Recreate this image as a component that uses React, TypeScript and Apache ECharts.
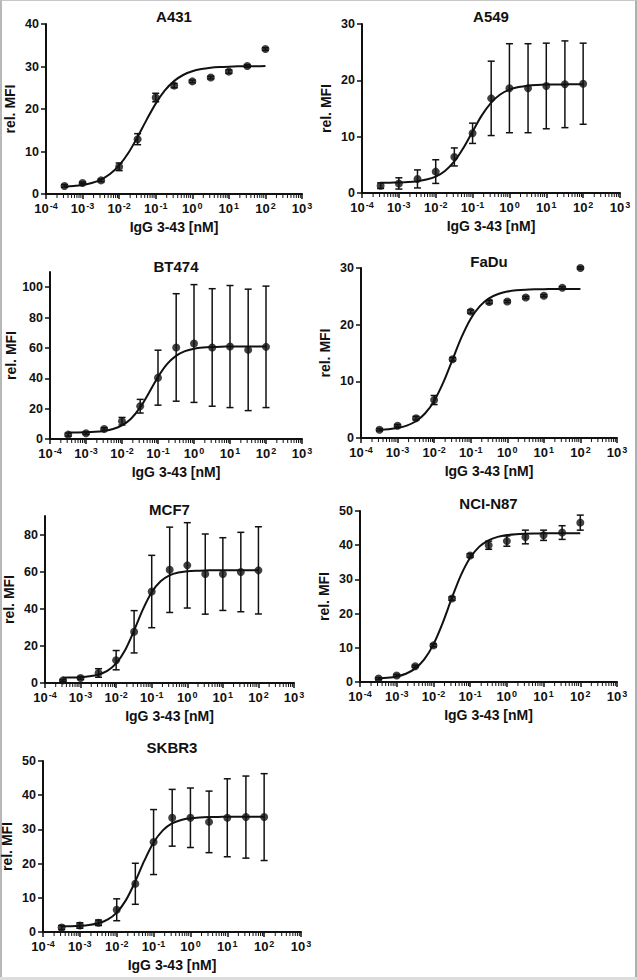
import React, { useEffect, useRef } from 'react';
import * as echarts from 'echarts';

// ---------- data ----------
const panelNames = ['A431', 'A549', 'BT474', 'FaDu', 'MCF7', 'NCI-N87', 'SKBR3'];
const xAxisTitle = 'IgG 3-43 [nM]';
const yAxisTitle = 'rel. MFI';

// antibody concentrations (nM)
const conc = [0.00032, 0.001, 0.0032, 0.01, 0.032, 0.1, 0.32, 1, 3.2, 10, 32, 100];
// concentrations at which the fitted curves were read
const curveConc = [
  0.000316, 0.000562, 0.001, 0.00178, 0.00316, 0.00562, 0.01, 0.0178, 0.0316, 0.0562,
  0.1, 0.178, 0.316, 0.562, 1, 1.78, 3.16, 5.62, 10, 17.8, 31.6, 56.2, 100,
];
const xMajorTicks = [0.0001, 0.001, 0.01, 0.1, 1, 10, 100, 1000];
const xMinorTicks = [
  0.0002, 0.0003, 0.0004, 0.0005, 0.0006, 0.0007, 0.0008, 0.0009,
  0.002, 0.003, 0.004, 0.005, 0.006, 0.007, 0.008, 0.009,
  0.02, 0.03, 0.04, 0.05, 0.06, 0.07, 0.08, 0.09,
  0.2, 0.3, 0.4, 0.5, 0.6, 0.7, 0.8, 0.9,
  2, 3, 4, 5, 6, 7, 8, 9,
  20, 30, 40, 50, 60, 70, 80, 90,
  200, 300, 400, 500, 600, 700, 800, 900,
];

const a431Mean = [1.9, 2.6, 3.2, 6.4, 12.9, 22.7, 25.5, 26.5, 27.4, 28.8, 30.1, 34.1];
const a431Err = [0.3, 0.2, 0.3, 0.9, 1.3, 1.0, 0.5, 0.3, 0.3, 0.4, 0.3, 0.3];
const a431Fit = [1.70, 1.86, 2.13, 2.60, 3.39, 4.70, 6.73, 9.64, 13.35, 17.44, 21.27, 24.36, 26.56, 28.00, 28.88, 29.40, 29.70, 29.87, 29.97, 30.03, 30.06, 30.08, 30.09];
const a431YTicks = [0, 10, 20, 30, 40];

const a549Mean = [1.3, 1.7, 2.5, 3.8, 6.4, 10.6, 16.8, 18.6, 18.6, 19.0, 19.3, 19.4];
const a549Err = [0.5, 1.0, 1.6, 2.1, 1.6, 1.8, 6.6, 7.9, 7.9, 7.6, 7.7, 7.2];
const a549Fit = [1.82, 1.84, 1.88, 1.95, 2.10, 2.38, 2.92, 3.91, 5.55, 7.97, 10.91, 13.78, 16.01, 17.48, 18.34, 18.80, 19.05, 19.17, 19.24, 19.27, 19.28, 19.29, 19.30];
const a549YTicks = [0, 10, 20, 30];

const bt474Mean = [2.9, 3.8, 6.6, 11.7, 21.6, 40.4, 60.3, 62.9, 60.3, 60.9, 58.7, 60.7];
const bt474Err = [1.0, 0.8, 0.8, 2.5, 4.5, 18.1, 35.4, 38.8, 38.7, 40.2, 40.0, 40.0];
const bt474Fit = [4.26, 4.32, 4.46, 4.74, 5.34, 6.55, 8.95, 13.38, 20.64, 30.48, 40.86, 49.28, 54.78, 57.88, 59.48, 60.27, 60.65, 60.83, 60.92, 60.96, 60.98, 60.99, 61.00];
const bt474YTicks = [0, 20, 40, 60, 80, 100];

const faduMean = [1.46, 2.17, 3.5, 6.7, 13.9, 22.3, 24.0, 24.1, 24.8, 25.1, 26.5, 30.0];
const faduErr = [0.2, 0.2, 0.3, 0.8, 0.3, 0.3, 0.3, 0.2, 0.2, 0.2, 0.2, 0.2];
const faduFit = [1.42, 1.54, 1.76, 2.18, 2.95, 4.32, 6.55, 9.81, 13.80, 17.79, 21.05, 23.28, 24.65, 25.42, 25.84, 26.06, 26.18, 26.24, 26.27, 26.28, 26.29, 26.30, 26.30];
const faduYTicks = [0, 10, 20, 30];

const mcf7Mean = [1.4, 2.7, 5.4, 12.3, 27.6, 49.3, 61.0, 63.4, 58.7, 58.7, 59.8, 60.7];
const mcf7Err = [0.5, 0.8, 2.3, 5.2, 11.4, 19.5, 23.0, 23.0, 21.6, 19.6, 21.4, 23.5];
const mcf7Fit = [2.87, 2.96, 3.15, 3.59, 4.53, 6.54, 10.55, 17.68, 28.08, 39.55, 48.90, 54.80, 57.96, 59.50, 60.21, 60.53, 60.68, 60.75, 60.78, 60.79, 60.80, 60.80, 60.80];
const mcf7YTicks = [0, 20, 40, 60, 80];

const nciMean = [1.0, 1.9, 4.6, 10.7, 24.4, 37.0, 40.0, 41.2, 42.4, 42.9, 43.7, 46.6];
const nciErr = [0.3, 0.3, 0.3, 0.4, 0.5, 0.5, 1.2, 1.5, 2.0, 1.5, 2.0, 2.2];
const nciFit = [1.01, 1.22, 1.63, 2.42, 3.91, 6.59, 10.99, 17.22, 24.50, 31.26, 36.34, 39.58, 41.44, 42.44, 42.96, 43.23, 43.36, 43.43, 43.47, 43.48, 43.49, 43.50, 43.50];
const nciYTicks = [0, 10, 20, 30, 40, 50];

const skbr3Mean = [1.3, 1.9, 2.7, 6.5, 14.1, 26.3, 33.4, 33.4, 32.2, 33.4, 33.6, 33.6];
const skbr3Err = [0.6, 0.8, 0.8, 3.2, 6.0, 9.5, 8.3, 8.7, 9.0, 11.4, 12.0, 12.7];
const skbr3Fit = [1.64, 1.70, 1.81, 2.05, 2.56, 3.61, 5.68, 9.32, 14.69, 20.85, 26.16, 29.73, 31.75, 32.77, 33.27, 33.50, 33.61, 33.66, 33.68, 33.69, 33.70, 33.70, 33.70];
const skbr3YTicks = [0, 10, 20, 30, 40, 50];

const yMaxes = [40, 30, 110, 30, 90, 50, 50];

const panelData = [
  { mean: a431Mean, err: a431Err, fit: a431Fit, ticks: a431YTicks },
  { mean: a549Mean, err: a549Err, fit: a549Fit, ticks: a549YTicks },
  { mean: bt474Mean, err: bt474Err, fit: bt474Fit, ticks: bt474YTicks },
  { mean: faduMean, err: faduErr, fit: faduFit, ticks: faduYTicks },
  { mean: mcf7Mean, err: mcf7Err, fit: mcf7Fit, ticks: mcf7YTicks },
  { mean: nciMean, err: nciErr, fit: nciFit, ticks: nciYTicks },
  { mean: skbr3Mean, err: skbr3Err, fit: skbr3Fit, ticks: skbr3YTicks },
];

// ---------- layout (pixels) ----------
const layouts = [
  { left: 46, top: 24, width: 256, height: 170, titleY: 16 },
  { left: 362, top: 24, width: 258, height: 169, titleY: 16 },
  { left: 50, top: 272, width: 252, height: 167, titleY: 266 },
  { left: 361, top: 268, width: 256, height: 170, titleY: 261 },
  { left: 45, top: 516, width: 249, height: 167, titleY: 509 },
  { left: 360, top: 511, width: 257, height: 171, titleY: 503 },
  { left: 43, top: 761, width: 258, height: 171, titleY: 747 },
];

const FONT = '"Liberation Sans", Arial, Helvetica, sans-serif';
const INK = '#111111';

function buildOption() {
  const grid: any[] = [];
  const xAxis: any[] = [];
  const yAxis: any[] = [];
  const series: any[] = [];
  const graphic: any[] = [];

  panelNames.forEach((name, i) => {
    const L = layouts[i];
    const d = panelData[i];
    grid.push({ left: L.left, top: L.top, width: L.width, height: L.height, containLabel: false, outerBoundsMode: 'none' });
    xAxis.push({
      type: 'log',
      logBase: 10,
      gridIndex: i,
      min: xMajorTicks[0],
      max: xMajorTicks[xMajorTicks.length - 1],
      splitNumber: 7,
      name: xAxisTitle,
      nameLocation: 'middle',
      nameGap: 26,
      nameTextStyle: { fontFamily: FONT, fontWeight: 'bold', fontSize: 14, color: INK },
      axisLine: { onZero: false, lineStyle: { color: INK, width: 2 } },
      axisTick: { show: true, length: 5, lineStyle: { color: INK, width: 1.5 } },
      splitLine: { show: false },
      axisLabel: {
        margin: 7,
        formatter: (v: number) => `{b|10}{s|${Math.round(Math.log10(v))}}`,
        rich: {
          b: { fontFamily: FONT, fontWeight: 'bold', fontSize: 13, color: INK, lineHeight: 15 },
          s: { fontFamily: FONT, fontWeight: 'bold', fontSize: 9, color: INK, verticalAlign: 'top', lineHeight: 10, padding: [0, 0, 0, 1] },
        },
      },
    });
    yAxis.push({
      type: 'value',
      gridIndex: i,
      min: 0,
      max: yMaxes[i],
      interval: d.ticks[1] - d.ticks[0],
      name: yAxisTitle,
      nameLocation: 'middle',
      nameRotate: 90,
      nameGap: 29,
      nameTextStyle: { fontFamily: FONT, fontWeight: 'bold', fontSize: 14, color: INK },
      axisLine: { show: true, onZero: false, lineStyle: { color: INK, width: 2 } },
      axisTick: { show: true, length: 5, customValues: d.ticks, lineStyle: { color: INK, width: 1.5 } },
      splitLine: { show: false },
      axisLabel: { margin: 7, customValues: d.ticks, fontFamily: FONT, fontWeight: 'bold', fontSize: 12.5, color: INK },
    });

    // error bars
    series.push({
      type: 'custom',
      xAxisIndex: i,
      yAxisIndex: i,
      z: 2,
      clip: false,
      encode: { x: 0, y: [1, 2] },
      data: conc.map((c, k) => [c, d.mean[k] - d.err[k], d.mean[k] + d.err[k]]),
      renderItem: (params: any, api: any) => {
        const x = api.value(0);
        const lo = api.coord([x, api.value(1)]);
        const hi = api.coord([x, api.value(2)]);
        const cw = 3.5;
        const st = { stroke: INK, lineWidth: 1.5, fill: 'none' };
        return {
          type: 'group',
          children: [
            { type: 'line', shape: { x1: lo[0], y1: lo[1], x2: hi[0], y2: hi[1] }, style: st },
            { type: 'line', shape: { x1: hi[0] - cw, y1: hi[1], x2: hi[0] + cw, y2: hi[1] }, style: st },
            { type: 'line', shape: { x1: lo[0] - cw, y1: lo[1], x2: lo[0] + cw, y2: lo[1] }, style: st },
          ],
        };
      },
    });
    // fitted curve
    series.push({
      type: 'line',
      xAxisIndex: i,
      yAxisIndex: i,
      z: 3,
      smooth: 0.3,
      showSymbol: false,
      symbol: 'none',
      lineStyle: { color: INK, width: 2 },
      data: curveConc.map((c, k) => [c, d.fit[k]]),
    });
    // points
    series.push({
      type: 'scatter',
      xAxisIndex: i,
      yAxisIndex: i,
      z: 4,
      symbol: 'circle',
      symbolSize: 8,
      itemStyle: { color: INK },
      data: conc.map((c, k) => [c, d.mean[k]]),
    });
    // minor log ticks on the x axis
    series.push({
      type: 'custom',
      xAxisIndex: i,
      yAxisIndex: i,
      z: 5,
      clip: false,
      silent: true,
      encode: { x: 0, y: 1 },
      data: xMinorTicks.map((v) => [v, 0]),
      renderItem: (params: any, api: any) => {
        const p = api.coord([api.value(0), 0]);
        return {
          type: 'line',
          shape: { x1: p[0], y1: p[1] + 1, x2: p[0], y2: p[1] + 4 },
          style: { stroke: INK, lineWidth: 1 },
        };
      },
    });

    graphic.push({
      type: 'text',
      x: L.left + L.width / 2,
      y: L.titleY,
      style: {
        text: name,
        font: `bold 15px ${FONT}`,
        fill: INK,
        textAlign: 'center',
        textVerticalAlign: 'middle',
        align: 'center',
        verticalAlign: 'middle',
      },
    });
  });

  return { animation: false, backgroundColor: 'transparent', grid, xAxis, yAxis, series, graphic };
}

export default function App() {
  const ref = useRef<HTMLDivElement>(null);
  useEffect(() => {
    if (!ref.current) return;
    const chart = echarts.init(ref.current, undefined, { renderer: 'svg' });
    chart.setOption(buildOption() as any);
    return () => chart.dispose();
  }, []);
  return (
    <div style={{ position: 'fixed', left: 0, top: 0, width: 637, height: 980, background: '#dcdcdc' }}>
      <div
        style={{
          position: 'absolute', left: 0, top: 0, width: 633, height: 976,
          background: '#ffffff', borderLeft: '2px solid #b8b8b8', borderRight: '2px solid #b0b0b0',
          borderTop: '1px solid #c8c8c8',
        }}
      />
      <div ref={ref} style={{ position: 'absolute', left: 0, top: 0, width: 637, height: 980 }} />
    </div>
  );
}
